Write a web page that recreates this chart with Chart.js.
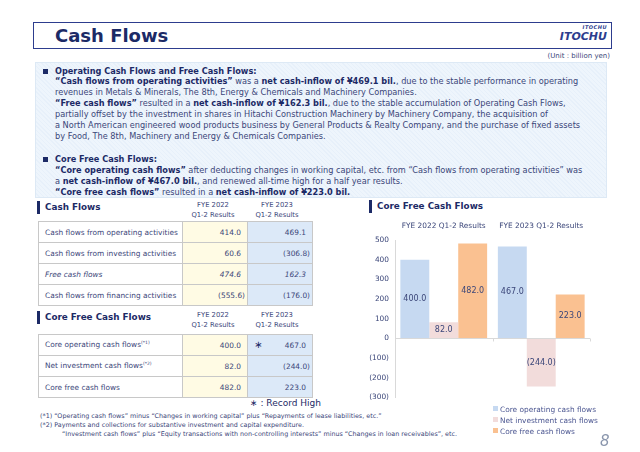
<!DOCTYPE html>
<html>
<head>
<meta charset="utf-8">
<script src="https://cdn.jsdelivr.net/npm/chart.js@4"></script>
<style>
  body { margin: 0; width: 640px; height: 452px; background: #fff; position: relative; overflow: hidden;
         font-family: "DejaVu Sans", Verdana, sans-serif; color: #3b4679; }
  .abs { position: absolute; }
  #titleBox { left: 33px; top: 22px; width: 577px; height: 25px; border: 1.5px solid #2d3d8e; }
  #titleBox .t { position: absolute; left: 21px; top: 2px; font-size: 18px; font-weight: bold; color: #1c2a66; }
  #logo { right: 4px; top: 1px; text-align: right; color: #2d3d8e; font-style: italic; font-weight: bold; }
  #unit { right: 30px; top: 52px; font-size: 7px; color: #3b4679; }
  #summary { left: 35px; top: 62px; width: 570px; height: 134px; border: 1px solid #dde9f5;
             background: repeating-linear-gradient(45deg, #eef5fc 0 2px, #e7f0fa 2px 3px); }
  .line { position: absolute; left: 55px; font-size: 8.2px; white-space: nowrap; color: #3b4679; }
  .line b, .hd { color: #1c2a66; font-weight: bold; }
  .bullet { position: absolute; left: 43px; width: 5px; height: 5px; background: #1c2a66; }
  .secHd { position: absolute; font-size: 8.8px; font-weight: bold; color: #1c2a66; padding-left: 5px; border-left: 3px solid #1c2a66; line-height: 13px; }
  .colHd { position: absolute; width: 64px; text-align: center; font-size: 6.8px; line-height: 10px; color: #3b4679; }
  table { position: absolute; border-collapse: collapse; font-size: 7.4px; color: #3b4679; border: 1.5px solid #bfbfbf; }
  td { border: 1px solid #c8c8c8; height: 20px; padding: 0; }
  td.lab { width: 137px; padding-left: 6px; background: #fff; }
  td.a { width: 58px; text-align: right; padding-right: 6px; background: #fffbe4; }
  td.b { width: 58px; text-align: right; padding-right: 6px; background: #dce9f8; }
  td.neg { padding-right: 2px; }
  .it { font-style: italic; }
  .note { position: absolute; left: 40px; font-size: 6.4px; white-space: nowrap; color: #3b4679; }
  #legend { left: 493px; top: 404px; font-size: 7.4px; color: #4a5590; }
  #legend div { height: 11px; line-height: 11px; white-space: nowrap; }
  #legend span { display: inline-block; width: 5px; height: 5px; margin-right: 2px; vertical-align: 1px; }
</style>
</head>
<body>
<div id="titleBox" class="abs">
  <div class="t">Cash Flows</div>
  <div id="logo" class="abs">
    <div style="font-size:5px;letter-spacing:0.5px;line-height:7px;">ITOCHU</div>
    <div style="font-size:11px;line-height:12px;">ITOCHU</div>
  </div>
</div>
<div id="unit" class="abs">(Unit : billion yen)</div>
<div id="summary" class="abs"></div>

<div class="bullet" style="top:69px"></div>
<div class="line hd" style="top:66px">Operating Cash Flows and Free Cash Flows:</div>
<div class="line" style="top:76px"><b>“Cash flows from operating activities”</b> was a <b>net cash-inflow of ¥469.1 bil.</b>, due to the stable performance in operating</div>
<div class="line" style="top:87px">revenues in Metals &amp; Minerals, The 8th, Energy &amp; Chemicals and Machinery Companies.</div>
<div class="line" style="top:98px"><b>“Free cash flows”</b> resulted in a <b>net cash-inflow of ¥162.3 bil.</b>, due to the stable accumulation of Operating Cash Flows,</div>
<div class="line" style="top:109px">partially offset by the investment in shares in Hitachi Construction Machinery by Machinery Company, the acquisition of</div>
<div class="line" style="top:120px">a North American engineered wood products business by General Products &amp; Realty Company, and the purchase of fixed assets</div>
<div class="line" style="top:131px">by Food, The 8th, Machinery and Energy &amp; Chemicals Companies.</div>
<div class="bullet" style="top:157px"></div>
<div class="line hd" style="top:154px">Core Free Cash Flows:</div>
<div class="line" style="top:165px"><b>“Core operating cash flows”</b> after deducting changes in working capital, etc. from “Cash flows from operating activities” was</div>
<div class="line" style="top:176px">a <b>net cash-inflow of ¥467.0 bil.</b>, and renewed all-time high for a half year results.</div>
<div class="line" style="top:187px"><b>“Core free cash flows”</b> resulted in a <b>net cash-inflow of ¥223.0 bil.</b></div>

<div class="secHd" style="left:37px;top:201px">Cash Flows</div>
<div class="colHd" style="left:181px;top:200px">FYE 2022<br>Q1-2 Results</div>
<div class="colHd" style="left:245px;top:200px">FYE 2023<br>Q1-2 Results</div>
<table id="cfTable" style="left:38px;top:221px"></table>

<div class="secHd" style="left:37px;top:311px">Core Free Cash Flows</div>
<div class="colHd" style="left:181px;top:310px">FYE 2022<br>Q1-2 Results</div>
<div class="colHd" style="left:245px;top:310px">FYE 2023<br>Q1-2 Results</div>
<table id="coreTable" style="left:38px;top:334px"></table>
<div class="abs" style="left:250px;top:398px;font-size:9px;color:#1c2a66">∗ : Record High</div>

<div class="note" style="top:412px">(*1) “Operating cash flows” minus “Changes in working capital” plus “Repayments of lease liabilities, etc.”</div>
<div class="note" style="top:421px">(*2) Payments and collections for substantive investment and capital expenditure.</div>
<div class="note" style="top:430px;left:62px">“Investment cash flows” plus “Equity transactions with non-controlling interests” minus “Changes in loan receivables”, etc.</div>

<div class="secHd" style="left:369px;top:200px">Core Free Cash Flows</div>
<canvas id="cfChart" class="abs" width="236" height="194" style="left:360px;top:214px"></canvas>
<div id="legend" class="abs"></div>
<div class="abs" style="left:600px;top:432px;font-size:15px;font-style:italic;color:#8a96ad;font-family:'DejaVu Sans'">8</div>

<script>
// table data
const cfLabels = ['Cash flows from operating activities', 'Cash flows from investing activities', 'Free cash flows', 'Cash flows from financing activities'];
const cfFye2022 = [414.0, 60.6, 474.6, -555.6];
const cfFye2023 = [469.1, -306.8, 162.3, -176.0];

const coreLabels = ['Core operating cash flows<sup>(*1)</sup>', 'Net investment cash flows<sup>(*2)</sup>', 'Core free cash flows'];

// chart data
const categories = ['FYE 2022 Q1-2 Results', 'FYE 2023 Q1-2 Results'];
const seriesNames = ['Core operating cash flows', 'Net investment cash flows', 'Core free cash flows'];
const coreOperating = [400.0, 467.0];
const netInvestment = [82.0, -244.0];
const coreFree = [482.0, 223.0];
const seriesColors = ['#c6d9f1', '#f2dcdb', '#fac191'];

const fmt = v => v < 0 ? '(' + Math.abs(v).toFixed(1) + ')' : v.toFixed(1);

function fillTable(id, labels, a, b, italicRow, starRow) {
    const t = document.getElementById(id);
    labels.forEach((lab, i) => {
        const tr = document.createElement('tr');
        const it = i === italicRow ? ' it' : '';
        const star = i === starRow ? '<span style="float:left;padding-left:6px;font-size:10px;line-height:8px;color:#1c2a66">∗</span>' : '';
        tr.innerHTML =
            '<td class="lab' + it + '">' + lab.replace('<sup>', '<sup style="font-size:4.5px">') + '</td>' +
            '<td class="a' + it + (a[i] < 0 ? ' neg' : '') + '">' + fmt(a[i]) + '</td>' +
            '<td class="b' + it + (b[i] < 0 ? ' neg' : '') + '">' + star + fmt(b[i]) + '</td>';
        t.appendChild(tr);
    });
}
fillTable('cfTable', cfLabels, cfFye2022, cfFye2023, 2, -1);
fillTable('coreTable', coreLabels,
    [coreOperating[0], netInvestment[0], coreFree[0]],
    [coreOperating[1], netInvestment[1], coreFree[1]], -1, 0);

// legend
document.getElementById('legend').innerHTML = seriesNames.map((n, i) =>
    '<div><span style="background:' + seriesColors[i] + '"></span>' + n + '</div>').join('');

// value labels in the middle of each bar + small ticks on the zero line
const barLabels = {
    id: 'barLabels',
    afterDatasetsDraw(chart) {
        const ctx = chart.ctx;
        ctx.save();
        ctx.font = '8px "DejaVu Sans"';
        ctx.fillStyle = '#3b4679';
        ctx.textAlign = 'center';
        ctx.textBaseline = 'middle';
        chart.data.datasets.forEach((ds, di) => {
            chart.getDatasetMeta(di).data.forEach((bar, i) => {
                ctx.fillText(fmt(ds.data[i]), bar.x, (bar.y + bar.base) / 2);
            });
        });
        const {x, y} = chart.scales;
        const y0 = y.getPixelForValue(0);
        const mid = (x.getPixelForValue(0) + x.getPixelForValue(1)) / 2;
        ctx.strokeStyle = '#d9d9d9';
        ctx.lineWidth = 1;
        ctx.beginPath();
        [mid, chart.chartArea.right].forEach(px => {
            ctx.moveTo(Math.round(px) + 0.5, y0);
            ctx.lineTo(Math.round(px) + 0.5, y0 + 3);
        });
        ctx.stroke();
        ctx.restore();
    }
};

new Chart(document.getElementById('cfChart'), {
    type: 'bar',
    data: {
        labels: categories,
        datasets: [coreOperating, netInvestment, coreFree].map((d, i) => ({
            label: seriesNames[i],
            data: d,
            backgroundColor: seriesColors[i],
            barPercentage: 1,
            categoryPercentage: 0.89
        }))
    },
    options: {
        responsive: false,
        animation: false,
        layout: { padding: { left: 0, right: 6, top: 0, bottom: 3 } },
        plugins: { legend: { display: false }, tooltip: { enabled: false } },
        scales: {
            x: {
                position: 'top',
                grid: { display: false, drawTicks: false },
                border: { display: false },
                ticks: { color: '#3b4679', font: { family: 'DejaVu Sans', size: 7.4 }, padding: 9 },
                afterFit(s) { s.height = 26; }
            },
            y: {
                min: -300,
                max: 500,
                ticks: { stepSize: 100, color: '#3b4679', font: { family: 'DejaVu Sans', size: 7.4 }, padding: 6,
                         callback: v => v < 0 ? '(' + Math.abs(v) + ')' : v },
                grid: { drawTicks: false, color: c => c.tick && c.tick.value === 0 ? '#d9d9d9' : 'rgba(0,0,0,0)' },
                border: { color: '#d9d9d9' },
                afterFit(s) { s.width = 35; }
            }
        }
    },
    plugins: [barLabels]
});
</script>
</body>
</html>
